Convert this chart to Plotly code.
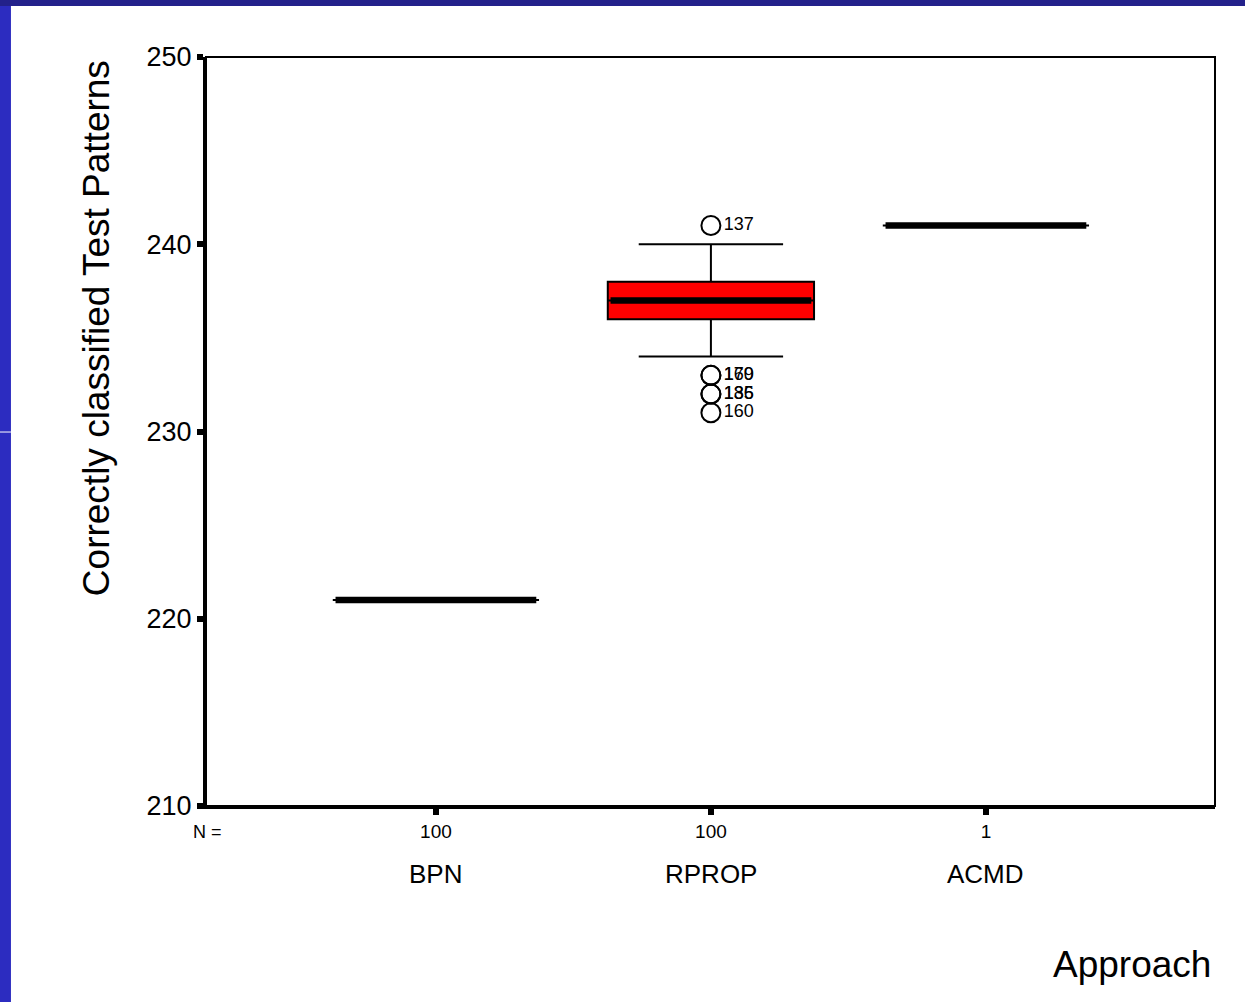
import plotly.graph_objects as go

# ---- data ----
categories = ["BPN", "RPROP", "ACMD"]
n_counts = ["100", "100", "1"]
q1 = [221, 236, 241]
median = [221, 237, 241]
q3 = [221, 238, 241]
lower_whisker = [221, 234, 241]
upper_whisker = [221, 240, 241]
outlier_cat = ["RPROP", "RPROP", "RPROP", "RPROP", "RPROP", "RPROP"]
outlier_val = [241, 233, 233, 232, 232, 231]
outlier_id = ["137", "169", "170", "135", "186", "160"]
y_ticks = [210, 220, 230, 240, 250]

FONT = "Arial, Liberation Sans, sans-serif"
pos = {c: i + 1 for i, c in enumerate(categories)}
xs = [pos[c] for c in categories]
box_w = 0.75

fig = go.Figure()

fig.add_trace(go.Box(
    x=xs, q1=q1, median=median, q3=q3,
    lowerfence=lower_whisker, upperfence=upper_whisker,
    width=box_w, whiskerwidth=0.7,
    fillcolor="#ff0000", line=dict(color="black", width=2),
    boxpoints=False, hoverinfo="skip", showlegend=False,
))

# thick median lines
for c, m in zip(categories, median):
    p = pos[c]
    fig.add_trace(go.Scatter(
        x=[p - box_w / 2 + 0.01, p + box_w / 2 - 0.01], y=[m, m], mode="lines",
        line=dict(color="black", width=6.5), hoverinfo="skip", showlegend=False,
    ))

# outliers
fig.add_trace(go.Scatter(
    x=[pos[c] for c in outlier_cat], y=outlier_val, mode="markers+text",
    marker=dict(symbol="circle-open", size=19, color="black", line=dict(width=2)),
    text=outlier_id, textposition="middle right",
    textfont=dict(family=FONT, size=18, color="black"),
    hoverinfo="skip", showlegend=False,
))

fig.update_layout(
    width=1245, height=1002, autosize=False,
    margin=dict(l=206, r=30, t=57, b=196),
    paper_bgcolor="white", plot_bgcolor="white",
    font=dict(family=FONT, color="black"),
    xaxis=dict(
        range=[0.164, 3.833], tickvals=xs, ticktext=n_counts,
        tickfont=dict(size=19), ticks="outside", ticklen=6, tickwidth=6,
        tickcolor="black", showline=True, linewidth=3, linecolor="black",
        showgrid=False, zeroline=False,
    ),
    yaxis=dict(
        range=[210, 250], tickvals=y_ticks,
        tickfont=dict(size=27), ticks="outside", ticklen=6, tickwidth=6,
        tickcolor="black", showline=True, linewidth=3, linecolor="black",
        showgrid=False, zeroline=False,
    ),
    shapes=[
        dict(type="rect", xref="paper", yref="paper", x0=0, x1=1, y0=0, y1=1,
             line=dict(color="black", width=2), layer="above"),
        # slide decoration: blue bars
        dict(type="rect", xref="paper", yref="paper", x0=-0.25, x1=1.1,
             y0=1.0681, y1=1.1, fillcolor="#23218b", line=dict(width=0)),
        dict(type="rect", xref="paper", yref="paper", x0=-0.25, x1=-0.1933,
             y0=-0.3, y1=1.0681, fillcolor="#2c2cc0", line=dict(width=0)),
        dict(type="line", xref="paper", yref="paper", x0=-0.25, x1=-0.1933,
             y0=0.4993, y1=0.4993, line=dict(color="white", width=1)),
    ],
)

annotations = [
    dict(text="N =", xref="paper", yref="paper", x=0.001, y=-0.0347,
         showarrow=False, font=dict(size=18), xanchor="center", yanchor="middle"),
    dict(text="Approach", xref="paper", yref="paper", x=0.998, y=-0.211,
         showarrow=False, font=dict(size=37), xanchor="right", yanchor="middle"),
    dict(text="Correctly classified Test Patterns", xref="paper", yref="paper",
         x=-0.109, y=0.638, textangle=-90, showarrow=False, font=dict(size=37),
         xanchor="center", yanchor="middle"),
]
for c in categories:
    annotations.append(dict(text=c, xref="x", yref="paper", x=pos[c], y=-0.0908,
                            showarrow=False, font=dict(size=26),
                            xanchor="center", yanchor="middle"))
fig.update_layout(annotations=annotations)

fig.write_html(
    "out.html",
    config={"displayModeBar": False},
    post_script="document.body.style.margin='0';document.body.style.overflow='hidden';",
)
